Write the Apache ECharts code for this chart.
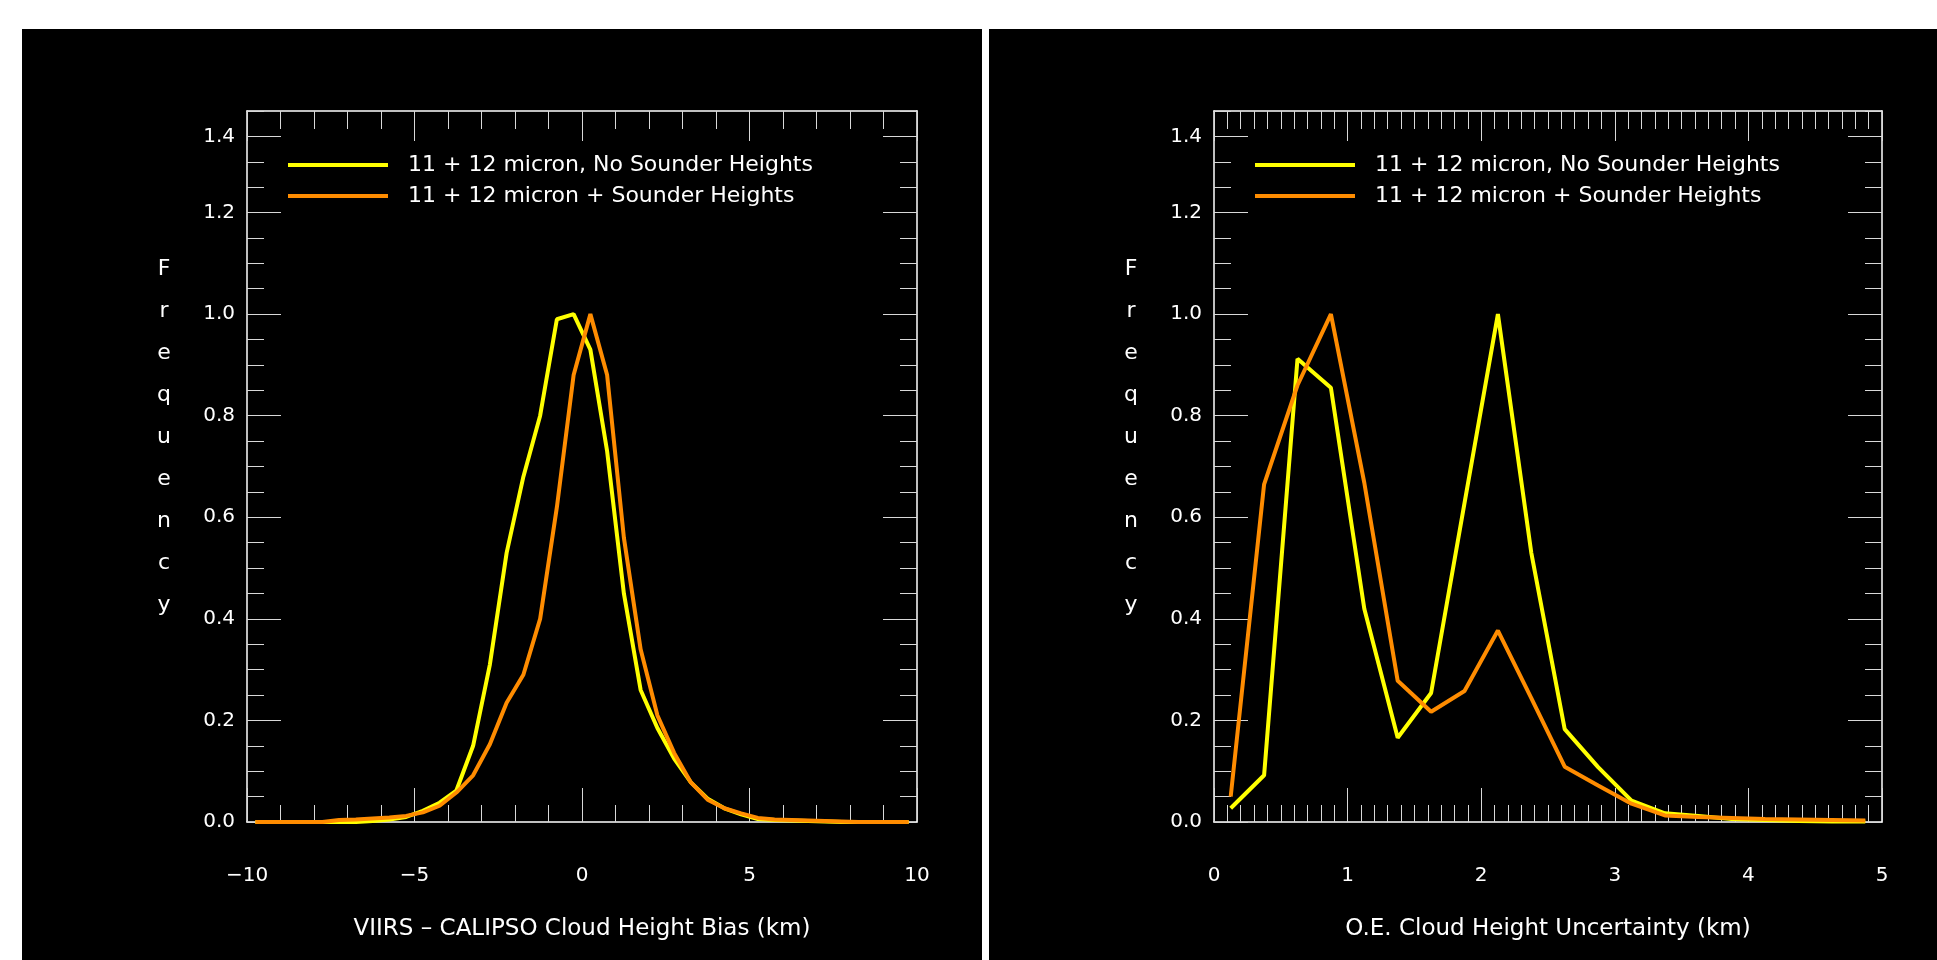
<!DOCTYPE html>
<html style="height: 100%">
<head>
<meta charset="utf-8">
</head>
<body style="height: 100%; margin: 0; width: 100%; background: #fff;">
<div id="container" style="height: 960px; width: 1937px;"></div>
<script src="https://cdn.jsdelivr.net/npm/echarts@6/dist/echarts.min.js"></script>
<script type="text/javascript">
// bin centres of the height-bias histogram (km)
var biasX = [-9.75, -9.25, -8.75, -8.25, -7.75, -7.25, -6.75, -6.25, -5.75, -5.25,
             -4.75, -4.25, -3.75, -3.25, -2.75, -2.25, -1.75, -1.25, -0.75, -0.25,
              0.25,  0.75,  1.25,  1.75,  2.25,  2.75,  3.25,  3.75,  4.25,  4.75,
              5.25,  5.75,  6.25,  6.75,  7.25,  7.75,  8.25,  8.75,  9.25,  9.75];
var biasNoSounder = [0, 0, 0, 0, 0, 0, 0, 0.002, 0.005, 0.010,
                     0.022, 0.038, 0.062, 0.150, 0.310, 0.530, 0.680, 0.800, 0.990, 1.000,
                     0.930, 0.730, 0.450, 0.260, 0.185, 0.125, 0.078, 0.046, 0.027, 0.015,
                     0.006, 0.004, 0.003, 0.002, 0.001, 0, 0, 0, 0, 0];
var biasSounder = [0, 0, 0, 0, 0, 0.004, 0.005, 0.007, 0.009, 0.012,
                   0.019, 0.032, 0.058, 0.092, 0.153, 0.235, 0.290, 0.400, 0.620, 0.880,
                   1.000, 0.880, 0.560, 0.340, 0.210, 0.136, 0.078, 0.044, 0.027, 0.017,
                   0.008, 0.005, 0.004, 0.003, 0.002, 0.001, 0, 0, 0, 0];

// bin centres of the uncertainty histogram (km)
var uncX = [0.125, 0.375, 0.625, 0.875, 1.125, 1.375, 1.625, 1.875, 2.125, 2.375,
            2.625, 2.875, 3.125, 3.375, 3.625, 3.875, 4.125, 4.375, 4.625, 4.875];
var uncNoSounder = [0.027, 0.092, 0.912, 0.855, 0.420, 0.166, 0.254, 0.628, 1.000, 0.530,
                    0.183, 0.108, 0.042, 0.017, 0.012, 0.006, 0.004, 0.002, 0.001, 0.001];
var uncSounder = [0.050, 0.665, 0.860, 1.000, 0.668, 0.278, 0.217, 0.258, 0.377, 0.244,
                  0.109, 0.072, 0.036, 0.013, 0.010, 0.008, 0.006, 0.005, 0.004, 0.003];

var freqTicks = [0, 0.2, 0.4, 0.6, 0.8, 1.0, 1.2, 1.35];
var freqLabels = ['0.0', '0.2', '0.4', '0.6', '0.8', '1.0', '1.2', '1.4'];
var seriesNames = ['11 + 12 micron, No Sounder Heights', '11 + 12 micron + Sounder Heights'];
var xTitles = ['VIIRS \u2013 CALIPSO Cloud Height Bias (km)', 'O.E. Cloud Height Uncertainty (km)'];
var yTitle = 'F\nr\ne\nq\nu\ne\nn\nc\ny';

var YELLOW = '#ffff00';
var ORANGE = '#ff8c00';
var FONT = 'DejaVu Sans';
var TICK = '#d8d8d8';

var dom = document.getElementById("container");
var myChart = echarts.init(dom, null, {renderer: 'canvas'});

function pairs(xs, ys) {
    return xs.map(function (x, i) { return [x, ys[i]]; });
}

function freqLabel(v) {
    var best = 0;
    for (var i = 1; i < freqTicks.length; i++) {
        if (Math.abs(freqTicks[i] - v) < Math.abs(freqTicks[best] - v)) best = i;
    }
    return freqLabels[best];
}

var grids = [
    {left: 247, top: 111, width: 670, height: 711, outerBoundsMode: 'none'},
    {left: 1214, top: 111, width: 668, height: 711, outerBoundsMode: 'none'}
];
var xRanges = [
    {min: -10, max: 10, interval: 5, minor: 5},
    {min: 0, max: 5, interval: 1, minor: 10}
];

var xAxes = [];
var yAxes = [];
[0, 1].forEach(function (g) {
    var r = xRanges[g];
    xAxes.push({
        type: 'value', gridIndex: g, position: 'bottom',
        min: r.min, max: r.max, interval: r.interval,
        axisLine: {onZero: false, lineStyle: {color: '#fff', width: 1.5}},
        axisTick: {inside: true, length: 34, lineStyle: {color: TICK}},
        minorTick: {show: true, splitNumber: r.minor, length: 17, lineStyle: {color: TICK}},
        splitLine: {show: false},
        axisLabel: {
            color: '#fff', fontFamily: FONT, fontSize: 20, margin: 44,
            formatter: function (v) { return String(v).replace('-', '\u2212'); }
        },
        name: xTitles[g], nameLocation: 'middle', nameGap: 96,
        nameTextStyle: {color: '#fff', fontFamily: FONT, fontSize: 23}
    });
    xAxes.push({
        type: 'value', gridIndex: g, position: 'top',
        min: r.min, max: r.max, interval: r.interval,
        axisLine: {onZero: false, lineStyle: {color: '#fff', width: 1.5}},
        axisTick: {inside: true, length: 30, lineStyle: {color: TICK}},
        minorTick: {show: true, splitNumber: r.minor, length: 18, lineStyle: {color: TICK}},
        splitLine: {show: false},
        axisLabel: {show: false}
    });
    ['left', 'right'].forEach(function (side) {
        yAxes.push({
            type: 'value', gridIndex: g, position: side, min: 0, max: 1.4,
            axisLine: {show: true, onZero: false, lineStyle: {color: '#fff', width: 1.5}},
            axisTick: {inside: true, length: 34, customValues: freqTicks, lineStyle: {color: TICK}},
            splitLine: {show: false},
            axisLabel: side === 'left' ? {
                customValues: freqTicks, formatter: freqLabel,
                color: '#fff', fontFamily: FONT, fontSize: 20, margin: 12
            } : {show: false}
        });
        // minor ticks every 0.05
        yAxes.push({
            type: 'value', gridIndex: g, position: side, min: 0, max: 1.4, interval: 0.05,
            axisLine: {show: false, onZero: false},
            axisTick: {inside: true, length: 17, lineStyle: {color: TICK}},
            splitLine: {show: false},
            axisLabel: {show: false}
        });
    });
});

var legendBase = {
    orient: 'vertical', top: 154, itemWidth: 100, itemHeight: 4, itemGap: 9,
    icon: 'rect', padding: 0, selectedMode: false, data: seriesNames,
    textStyle: {color: '#fff', fontFamily: FONT, fontSize: 22, padding: [0, 0, 0, 15]}
};

function lineSeries(name, color, xi, yi, data) {
    return {
        name: name, type: 'line', xAxisIndex: xi, yAxisIndex: yi,
        data: data, showSymbol: false, symbol: 'none',
        color: color, itemStyle: {color: color},
        lineStyle: {color: color, width: 4}
    };
}

// stacked "Frequency" titles, one per panel
function yTitleText(x) {
    return {
        type: 'text', x: x, y: 437, z: 10,
        style: {
            text: yTitle, fill: '#fff', fontFamily: FONT, fontSize: 22, lineHeight: 42,
            align: 'center', verticalAlign: 'middle'
        }
    };
}

option = {
    backgroundColor: '#ffffff',
    animation: false,
    graphic: [
        {type: 'rect', z: -10, shape: {x: 22, y: 29, width: 960, height: 931}, style: {fill: '#000'}},
        {type: 'rect', z: -10, shape: {x: 989, y: 29, width: 948, height: 931}, style: {fill: '#000'}},
        yTitleText(164),
        yTitleText(1131)
    ],
    grid: grids,
    xAxis: xAxes,
    yAxis: yAxes,
    legend: [
        echarts.util.merge({left: 288}, legendBase),
        echarts.util.merge({left: 1255}, legendBase)
    ],
    series: [
        lineSeries(seriesNames[0], YELLOW, 0, 0, pairs(biasX, biasNoSounder)),
        lineSeries(seriesNames[1], ORANGE, 0, 0, pairs(biasX, biasSounder)),
        lineSeries(seriesNames[0], YELLOW, 2, 4, pairs(uncX, uncNoSounder)),
        lineSeries(seriesNames[1], ORANGE, 2, 4, pairs(uncX, uncSounder))
    ]
};

if (option && typeof option === "object") {
    myChart.setOption(option, true);
}
</script>
</body>
</html>
